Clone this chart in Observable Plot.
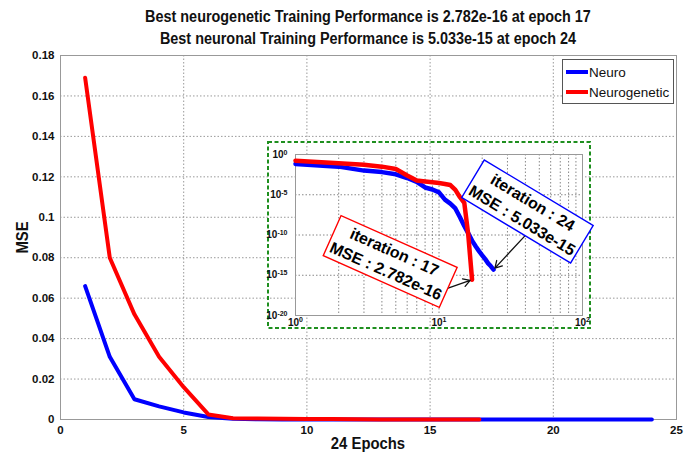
<!DOCTYPE html>
<html><head><meta charset="utf-8">
<script src="https://cdn.jsdelivr.net/npm/d3@7"></script>
<script src="https://cdn.jsdelivr.net/npm/@observablehq/plot@0.6"></script>
<style>
body{margin:0;background:#fff;}
#wrap{position:relative;width:696px;height:453px;overflow:hidden;font-family:'Liberation Sans',Arial,sans-serif;color:#111;}
.title{position:absolute;left:60px;width:616px;text-align:center;font-weight:bold;font-size:16px;line-height:21px;white-space:nowrap;transform:scaleX(0.9);transform-origin:50% 50%;}
#main{position:absolute;left:0;top:48px;}
#inset{position:absolute;left:267px;top:141px;}
#legend{position:absolute;left:562px;top:59px;width:110px;height:43px;background:#fff;border:1px solid #555;font-family:'Liberation Sans',Arial,sans-serif;font-size:13.5px;}
.lrow{position:absolute;left:3px;height:20px;display:flex;align-items:center;}
.sw{width:22px;height:4px;margin-right:1px;}
#xlab{position:absolute;left:268px;width:200px;top:434px;text-align:center;font-weight:bold;font-size:16.5px;transform:scaleX(0.9);}
#ylab{position:absolute;left:-28px;top:228px;width:100px;text-align:center;font-weight:bold;font-size:16.5px;transform:rotate(-90deg) scaleX(0.9);}
</style></head><body>
<div id="wrap">
  <div class="title" style="top:6px">Best neurogenetic Training Performance is 2.782e-16 at epoch 17</div>
  <div class="title" style="top:28px">Best neuronal Training Performance is 5.033e-15 at epoch 24</div>
  <div id="main"></div>
  <div id="inset"></div>
  <div id="legend"></div>
  <div id="xlab">24 Epochs</div>
  <div id="ylab">MSE</div>
</div>
<script>
// ---- data ----
const neuroEpochs = d3.range(1, 25);
const neuroMSE = [0.066, 0.031, 0.010, 0.0065, 0.0035, 0.0012, 4e-4, 8e-5, 4.5e-5, 2e-5, 2.5e-6, 8e-7,
  2e-7, 1.6e-8, 1.3e-9, 1.6e-10, 2e-11, 4e-12, 1e-12, 3e-13, 1e-13, 3e-14, 1.3e-14, 5.033e-15];
const ngEpochs = d3.range(1, 18);
const ngMSE = [0.169, 0.08, 0.052, 0.031, 0.016, 0.0025, 6e-4, 4.5e-4, 3.5e-4, 2.8e-4, 2.2e-4, 1.6e-4,
  4e-5, 5e-6, 1e-6, 1e-10, 2.782e-16];
const seriesNames = ["Neuro", "Neurogenetic"];
const seriesColors = ["#0000ff", "#ff0000"];
const xTicks = [0, 5, 10, 15, 20, 25];
const yTicks = [0, 0.02, 0.04, 0.06, 0.08, 0.1, 0.12, 0.14, 0.16, 0.18];
const insetXTicks = [1, 10, 100];
const insetXExp = ["0", "1", "2"];
const insetYTicks = [1e-20, 1e-15, 1e-10, 1e-5, 1];
const insetYExp = ["-20", "-15", "-10", "-5", "0"];
const annotLabels = ["iteration : 17\nMSE : 2.782e-16", "iteration : 24\nMSE : 5.033e-15"];
const annotX = [4.6, 41.7];
const annotY = [7e-14, 1.1e-7];
const annotRotate = [24, 31];
const annotColors = ["#ff0000", "#0000ff"];
const arrowFromX = [10.8, 40];
const arrowFromY = [1.6e-17, 9e-11];
const arrowToX = [17, 24];
const arrowToY = [2.782e-16, 5.033e-15];

const neuro = neuroEpochs.map((e, i) => ({epoch: e, mse: neuroMSE[i]}));
const ng = ngEpochs.map((e, i) => ({epoch: e, mse: ngMSE[i]}));
const annots = annotLabels.map((t, i) => ({text: t, x: annotX[i], y: annotY[i], r: annotRotate[i], c: annotColors[i]}));
const arrows = arrowFromX.map((x, i) => ({x1: x, y1: arrowFromY[i], x2: arrowToX[i], y2: arrowToY[i]}));

const fontMain = "'Liberation Sans',Arial,sans-serif";

// ---- main plot ----
const main = Plot.plot({
  width: 696, height: 405,
  marginTop: 7, marginBottom: 34, marginLeft: 60, marginRight: 20,
  style: {fontFamily: fontMain, fontSize: "11.5px", fontWeight: "bold", background: "transparent", color: "#111"},
  x: {domain: [0, 25], ticks: xTicks, tickSize: 0, tickPadding: 6, label: null},
  y: {domain: [0, 0.18], ticks: yTicks, tickSize: 0, tickPadding: 6, label: null, tickFormat: d3.format("~g")},
  marks: [
    Plot.gridX(xTicks.slice(1, -1), {stroke: "#999", strokeOpacity: 1, strokeDasharray: "1.5,2"}),
    Plot.gridY(yTicks.slice(1, -1), {stroke: "#999", strokeOpacity: 1, strokeDasharray: "1.5,2"}),
    Plot.frame({stroke: "#999"}),
    Plot.line(neuro, {x: "epoch", y: "mse", stroke: seriesColors[0], strokeWidth: 4}),
    Plot.line(ng, {x: "epoch", y: "mse", stroke: seriesColors[1], strokeWidth: 4})
  ]
});
document.getElementById("main").appendChild(main);

// ---- inset (log-log) ----
const minorX = [2,3,4,5,6,7,8,9,10,20,30,40,50,60,70,80,90];
const logIndex = (arr, d) => arr.findIndex(t => Math.abs(Math.log10(t) - Math.log10(d)) < 1e-6);
const inset = Plot.plot({
  width: 324, height: 188,
  marginLeft: 28, marginRight: 9, marginTop: 13, marginBottom: 14,
  style: {fontFamily: fontMain, fontSize: "10px", fontWeight: "bold", background: "transparent", color: "#111", overflow: "visible"},
  x: {type: "log", domain: [1, 100], ticks: insetXTicks, tickSize: 0, tickPadding: 3, label: null,
      tickFormat: d => "10^" + insetXExp[logIndex(insetXTicks, d)]},
  y: {type: "log", domain: [1e-20, 1], ticks: insetYTicks, tickSize: 0, tickPadding: 8, label: null,
      tickFormat: d => "10^" + insetYExp[logIndex(insetYTicks, d)]},
  marks: [
    Plot.frame({fill: "white", stroke: "none"}),
    Plot.gridX(minorX, {stroke: "#888", strokeOpacity: 1, strokeDasharray: "1.5,2"}),
    Plot.gridY([1e-15, 1e-10, 1e-5], {stroke: "#888", strokeOpacity: 1, strokeDasharray: "1.5,2"}),
    Plot.frame({stroke: "#999"}),
    Plot.line(neuro, {x: "epoch", y: "mse", stroke: seriesColors[0], strokeWidth: 4.5}),
    Plot.line(ng, {x: "epoch", y: "mse", stroke: seriesColors[1], strokeWidth: 4.5}),
    Plot.arrow(arrows, {x1: "x1", y1: "y1", x2: "x2", y2: "y2", stroke: "#111", strokeWidth: 1.3, headLength: 9, insetEnd: 2}),
    Plot.text(annots, {x: "x", y: "y", text: "text", rotate: d => d.r, fill: "#000", fontSize: 16,
      fontWeight: "bold", fontFamily: fontMain, lineHeight: 1.3})
  ]
});
document.getElementById("inset").appendChild(inset);
d3.select(inset).style("overflow", "visible");

// superscript exponents on the log tick labels
d3.select(inset).selectAll('g[aria-label$="tick label"] text').each(function() {
  const s = this.textContent;
  if (!s.startsWith("10^")) return;
  const exp = s.slice(3);
  const t = d3.select(this);
  t.text("10");
  t.append("tspan").attr("dy", "-0.45em").attr("font-size", "7px").text(exp);
});

// rotated boxes around annotation texts
d3.select(inset).selectAll('g[aria-label="text"] text').each(function(_, i) {
  const bb = this.getBBox();
  const padX = 3, padY = 3;
  d3.select(this.parentNode).insert("rect", () => this)
    .attr("transform", this.getAttribute("transform"))
    .attr("x", bb.x - padX).attr("y", bb.y - padY)
    .attr("width", bb.width + 2 * padX).attr("height", bb.height + 2 * padY)
    .attr("fill", "white").attr("stroke", annots[i].c).attr("stroke-width", 1.4);
});
// green dashed border of the inset
d3.select(inset).insert("rect", ":first-child")
  .attr("x", 1).attr("y", 1).attr("width", 322).attr("height", 186)
  .attr("fill", "none").attr("stroke", "#1f8f1f").attr("stroke-width", 2).attr("stroke-dasharray", "4,2.5");

// ---- legend ----
const legend = document.getElementById("legend");
seriesNames.forEach((name, i) => {
  const row = document.createElement("div");
  row.className = "lrow";
  row.style.top = (2 + i * 20) + "px";
  row.innerHTML = `<span class="sw" style="background:${seriesColors[i]}"></span><span>${name}</span>`;
  legend.appendChild(row);
});
</script>
</body></html>
